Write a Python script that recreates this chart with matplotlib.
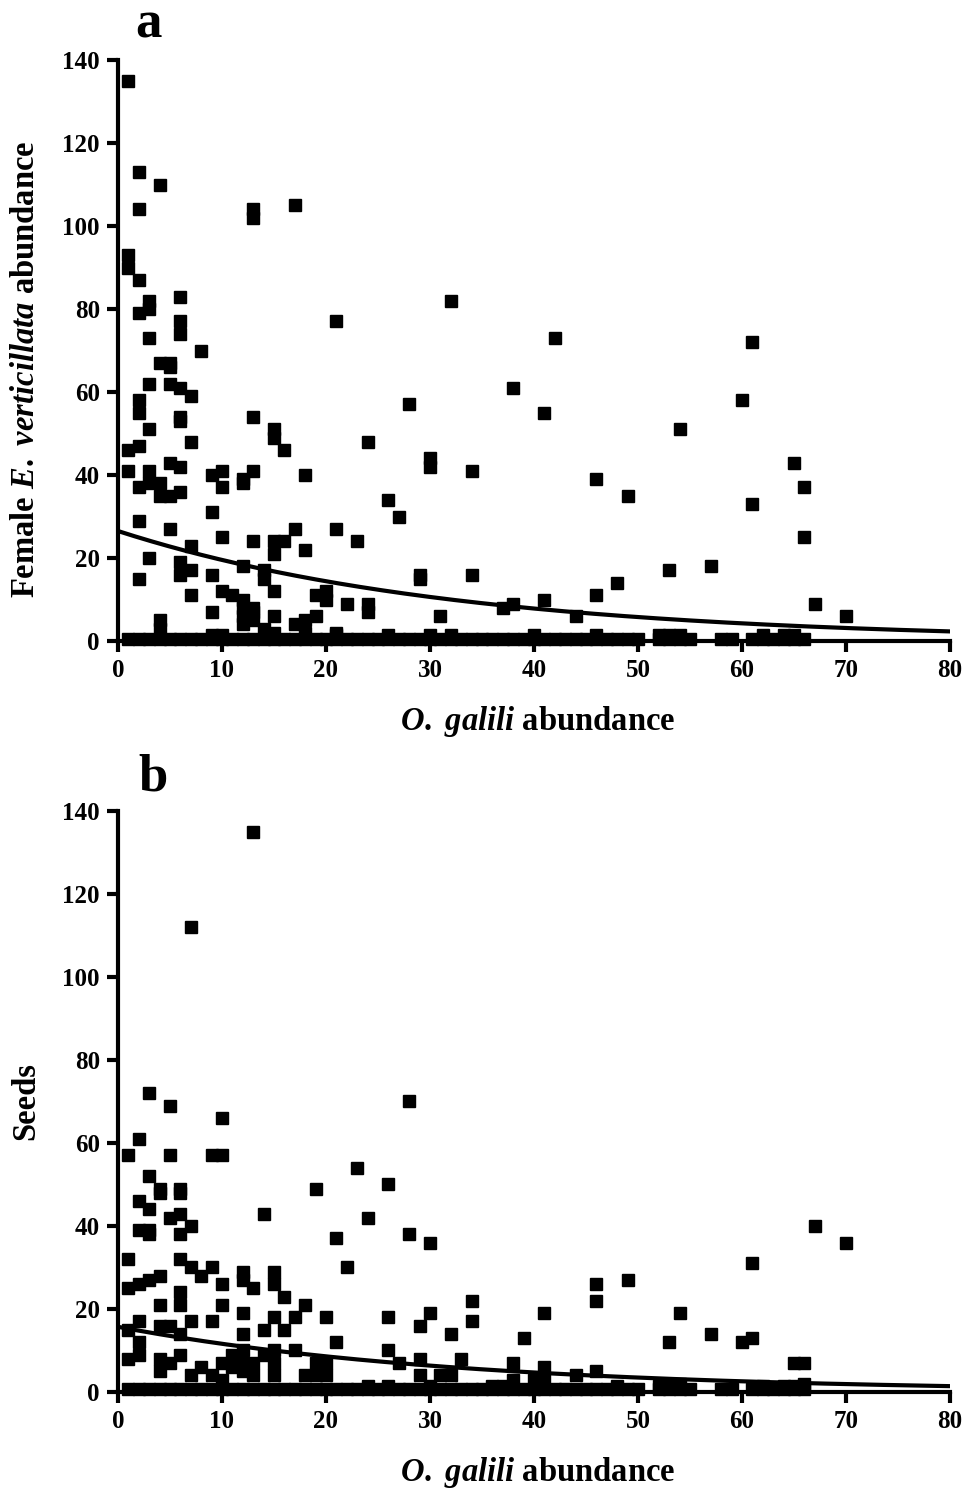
import numpy as np
import matplotlib
matplotlib.use("Agg")
import matplotlib.pyplot as plt

# ----------------------------
# Data: O. galili abundance vs. female E. verticillata abundance (a) and seeds (b)
# ----------------------------
fem_x = [1, 2, 4, 2, 13, 13, 17, 1, 1, 2, 3, 3, 2, 6, 6, 21, 6, 3, 8, 4, 5, 5, 3, 5, 6, 7,
         2, 2, 6, 6, 13, 3, 15, 15, 7, 2, 1, 16, 5, 6, 1, 3, 10, 13, 9, 12, 18, 12, 3, 4,
         2, 10, 4, 5, 6, 9, 2, 5, 10, 13, 15, 16, 17, 21, 7, 3, 6, 6, 7, 2, 9, 12, 14, 14,
         15, 18, 7, 10, 11, 12, 9, 12, 12, 13, 13, 12, 13, 15, 15, 14, 15, 17, 18, 19, 19,
         20, 20, 18, 21, 22, 4, 4, 28, 32, 42, 38, 41, 24, 30, 30, 34, 46, 49, 26, 27, 23,
         29, 29, 34, 48, 46, 41, 37, 38, 24, 24, 31, 44, 61, 60, 54, 65, 66, 61, 66, 53, 57,
         67, 70]
fem_y = [135, 113, 110, 104, 104, 102, 105, 93, 90, 87, 82, 80, 79, 83, 77, 77, 74, 73, 70,
         67, 67, 66, 62, 62, 61, 59, 58, 55, 54, 53, 54, 51, 51, 49, 48, 47, 46, 46, 43, 42,
         41, 41, 41, 41, 40, 39, 40, 38, 38, 38, 37, 37, 35, 35, 36, 31, 29, 27, 25, 24, 24,
         24, 27, 27, 23, 20, 19, 16, 17, 15, 16, 18, 17, 15, 21, 22, 11, 12, 11, 10, 7, 8,
         6, 8, 7, 4, 5, 12, 6, 3, 2, 4, 5, 6, 11, 12, 10, 2, 2, 9, 5, 3, 57, 82, 73, 61, 55,
         48, 44, 42, 41, 39, 35, 34, 30, 24, 16, 15, 16, 14, 11, 10, 8, 9, 9, 7, 6, 6, 72,
         58, 51, 43, 37, 33, 25, 17, 18, 9, 6]

seed_x = [13, 7, 3, 28, 5, 10, 2, 1, 5, 9, 10, 23, 3, 26, 4, 6, 19, 4, 6, 2, 3, 14, 5, 6, 24,
          7, 2, 3, 3, 6, 28, 21, 30, 1, 6, 7, 9, 22, 8, 12, 15, 12, 15, 1, 2, 3, 4, 13, 6, 16,
          6, 4, 10, 10, 18, 12, 17, 20, 26, 30, 41, 15, 34, 34, 46, 46, 49, 54, 61, 67, 70,
          39, 53, 57, 60, 61, 65, 66, 66, 54, 1, 2, 4, 5, 7, 9, 12, 14, 16, 21, 2, 6, 1, 2, 4,
          5, 6, 4, 7, 8, 9, 10, 10, 11, 12, 12, 11, 12, 13, 13, 14, 15, 15, 15, 17, 18, 19, 19,
          20, 20, 26, 27, 29, 29, 29, 31, 32, 32, 33, 38, 38, 40, 41, 41, 44, 46]
seed_y = [135, 112, 72, 70, 69, 66, 61, 57, 57, 57, 57, 54, 52, 50, 49, 49, 49, 48, 48, 46,
          44, 43, 42, 43, 42, 40, 39, 39, 38, 38, 38, 37, 36, 32, 32, 30, 30, 30, 28, 29, 29,
          27, 26, 25, 26, 27, 28, 25, 24, 23, 21, 21, 26, 21, 21, 19, 18, 18, 18, 19, 19, 18,
          22, 17, 26, 22, 27, 19, 31, 40, 36, 13, 12, 14, 12, 13, 7, 7, 2, 2, 15, 17, 16, 16,
          17, 17, 14, 15, 15, 12, 12, 14, 8, 9, 8, 7, 9, 5, 4, 6, 4, 3, 7, 9, 10, 7, 6, 5, 7,
          4, 9, 10, 7, 4, 10, 4, 7, 4, 7, 4, 10, 7, 16, 8, 4, 4, 4, 14, 8, 7, 3, 3, 6, 3, 4, 5]

# plots with no adults / no seeds pile up on the x axis
zero_x = [1, 2, 3, 4, 5, 6, 7, 8, 9, 10, 11, 12, 13, 14, 15, 16, 17, 18, 19, 20, 21, 22, 23,
          24, 25, 26, 27, 28, 29, 30, 31, 32, 33, 34, 35, 36, 37, 38, 39, 40, 41, 42, 43, 44,
          45, 46, 47, 48, 49, 50, 52, 53, 54, 55, 58, 59, 61, 62, 63, 64, 65, 66]
ones_a_x = [9, 10, 21, 26, 30, 32, 40, 46, 52, 53, 54, 62, 64, 65]
ones_b_x = [24, 26, 30, 36, 37, 48, 52, 53, 62, 64, 65]

# exponential decline fits: y = a * exp(-b x)
fit_a = (26.5, 0.0305)
fit_b = (15.7, 0.0302)

plt.rcParams["font.family"] = "Liberation Serif"
plt.rcParams["font.weight"] = "bold"
plt.rcParams["mathtext.fontset"] = "custom"
plt.rcParams["mathtext.it"] = "Liberation Serif:bold:italic"
plt.rcParams["mathtext.rm"] = "Liberation Serif:bold"

fig = plt.figure(figsize=(9.68, 14.9), dpi=100)
ax_a = fig.add_axes([0.1219, 0.5698, 0.8595, 0.3899])
ax_b = fig.add_axes([0.1219, 0.0658, 0.8595, 0.3899])

xlab = r"$\mathit{O.}$ $\mathit{galili}$ abundance"
panels = [
    (ax_a, fem_x, fem_y, ones_a_x, fit_a,
     r"Female $\mathit{E.}$ $\mathit{verticillata}$ abundance", 0.468, "a", 0.036, 1.038),
    (ax_b, seed_x, seed_y, ones_b_x, fit_b, "Seeds", 0.5, "b", 0.042, 1.036),
]

for ax, xs, ys, ones_x, fit, ylab, ylab_y, letter, lx, ly in panels:
    mk = dict(marker="s", ms=8, color="black", linestyle="none", clip_on=False, zorder=3)
    ax.plot(xs, ys, **mk)
    ax.plot(zero_x, [0.6] * len(zero_x), **mk)
    ax.plot(ones_x, [1.5] * len(ones_x), **mk)

    xf = np.linspace(0, 80, 300)
    ax.plot(xf, fit[0] * np.exp(-fit[1] * xf), color="black", lw=3, zorder=4)

    ax.set_xlim(0, 80)
    ax.set_ylim(0, 140)
    ax.set_xticks(range(0, 81, 10))
    ax.set_yticks(range(0, 141, 20))
    for s in ["top", "right"]:
        ax.spines[s].set_visible(False)
    for s in ["left", "bottom"]:
        ax.spines[s].set_linewidth(3)
    ax.tick_params(width=3, length=8, labelsize=18, pad=5)
    for lbl in ax.get_xticklabels() + ax.get_yticklabels():
        lbl.set_fontweight("bold")

    ax.set_xlabel(xlab, fontsize=23.5, fontweight="bold")
    ax.set_ylabel(ylab, fontsize=23.5, fontweight="bold")
    ax.xaxis.set_label_coords(0.505, -0.139)
    ax.yaxis.set_label_coords(-0.1106, ylab_y)
    ax.xaxis.label.set_va("center")
    ax.yaxis.label.set_va("center")
    ax.text(lx, ly, letter, transform=ax.transAxes, fontsize=38,
            fontweight="bold", ha="center", va="baseline")

fig.savefig("out.png", dpi=100)
